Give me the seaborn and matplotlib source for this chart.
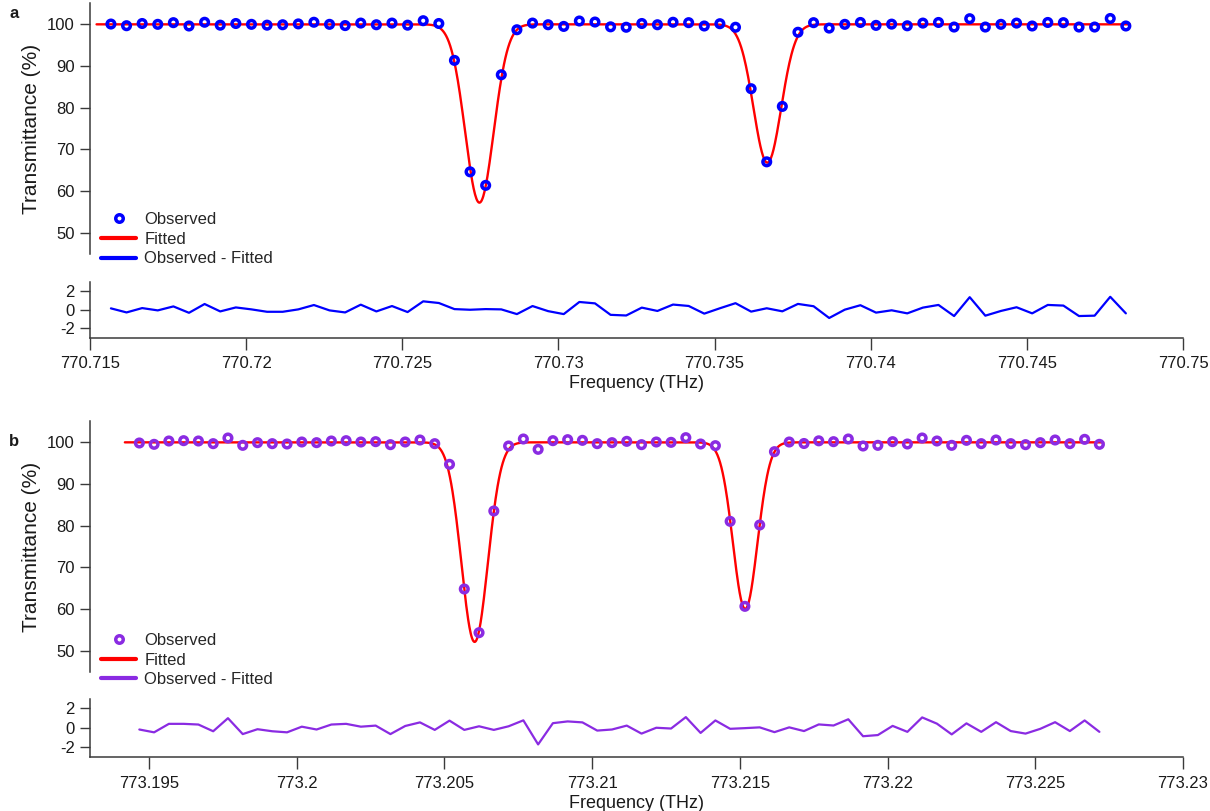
import numpy as np
import pandas as pd
import matplotlib
matplotlib.use("Agg")
import matplotlib.pyplot as plt
from matplotlib.lines import Line2D
import seaborn as sns

# ---------------- data: panel a ----------------
freq_a = [770.71567, 770.71617, 770.71667, 770.71717, 770.71767, 770.71817, 770.71867, 770.71917,
          770.71967, 770.72017, 770.72067, 770.72117, 770.72167, 770.72217, 770.72267, 770.72317,
          770.72367, 770.72417, 770.72467, 770.72517, 770.72567, 770.72617, 770.72667, 770.72717,
          770.72767, 770.72817, 770.72867, 770.72917, 770.72967, 770.73017, 770.73067, 770.73117,
          770.73167, 770.73217, 770.73267, 770.73317, 770.73367, 770.73417, 770.73467, 770.73517,
          770.73567, 770.73617, 770.73667, 770.73717, 770.73767, 770.73817, 770.73867, 770.73917,
          770.73967, 770.74017, 770.74067, 770.74117, 770.74167, 770.74217, 770.74267, 770.74317,
          770.74367, 770.74417, 770.74467, 770.74517, 770.74567, 770.74617, 770.74667, 770.74717,
          770.74767, 770.74817]
obs_a = [100.07, 99.67, 100.2, 100.0, 100.4, 99.6, 100.5, 99.8, 100.2, 100.0,
         99.8, 99.9, 100.1, 100.5, 100.0, 99.7, 100.3, 99.9, 100.3, 99.8,
         100.87, 100.2, 91.35, 64.6, 61.35, 87.9, 98.7, 100.3, 99.9, 99.5,
         100.8, 100.55, 99.4, 99.3, 100.2, 99.9, 100.5, 100.4, 99.6, 100.15,
         99.3, 84.55, 67.0, 80.3, 98.1, 100.4, 99.1, 100.0, 100.45, 99.75,
         100.05, 99.65, 100.3, 100.45, 99.35, 101.35, 99.35, 100.0, 100.3, 99.6,
         100.45, 100.4, 99.35, 99.35, 101.4, 99.6]
resid_a = [0.15, -0.29, 0.18, -0.07, 0.36, -0.33, 0.62, -0.18, 0.25, 0.04,
           -0.22, -0.22, 0.04, 0.51, -0.07, -0.29, 0.55, -0.18, 0.4, -0.25,
           0.91, 0.73, 0.07, 0.0, 0.07, 0.04, -0.47, 0.4, -0.15, -0.47,
           0.84, 0.69, -0.55, -0.62, 0.23, -0.13, 0.56, 0.41, -0.42, 0.16,
           0.71, -0.2, 0.16, -0.17, 0.63, 0.38, -0.89, 0.01, 0.49, -0.31,
           -0.06, -0.39, 0.23, 0.52, -0.68, 1.36, -0.64, -0.13, 0.27, -0.39,
           0.52, 0.45, -0.68, -0.64, 1.4, -0.39]
# fitted model parameters (Gaussian dips on a 100 % baseline)
fit_centers_a = [770.72747, 770.73669]
fit_depths_a = [42.8, 33.2]
fit_sigmas_a = [0.000455, 0.000442]
fit_range_a = [770.71521, 770.74830]
xticks_a = [770.715, 770.72, 770.725, 770.73, 770.735, 770.74, 770.745, 770.75]
xlim_a = [770.715, 770.75]

# ---------------- data: panel b ----------------
freq_b = [773.19467, 773.19517, 773.19567, 773.19617, 773.19667, 773.19717, 773.19767, 773.19817,
          773.19867, 773.19917, 773.19967, 773.20017, 773.20067, 773.20117, 773.20167, 773.20217,
          773.20267, 773.20317, 773.20367, 773.20417, 773.20467, 773.20517, 773.20567, 773.20617,
          773.20667, 773.20717, 773.20767, 773.20817, 773.20867, 773.20917, 773.20967, 773.21017,
          773.21067, 773.21117, 773.21167, 773.21217, 773.21267, 773.21317, 773.21367, 773.21417,
          773.21467, 773.21517, 773.21567, 773.21617, 773.21667, 773.21717, 773.21767, 773.21817,
          773.21867, 773.21917, 773.21967, 773.22017, 773.22067, 773.22117, 773.22167, 773.22217,
          773.22267, 773.22317, 773.22367, 773.22417, 773.22467, 773.22517, 773.22567, 773.22617,
          773.22667, 773.22717]
obs_b = [99.84, 99.52, 100.32, 100.4, 100.32, 99.68, 101.04, 99.28, 99.92, 99.68,
         99.6, 100.08, 99.92, 100.32, 100.4, 100.08, 100.16, 99.44, 100.08, 100.56,
         99.68, 94.72, 64.8, 54.32, 83.52, 99.12, 100.8, 98.32, 100.4, 100.64,
         100.48, 99.68, 99.92, 100.24, 99.44, 100.08, 100.0, 101.12, 99.6, 99.2,
         81.04, 60.64, 80.16, 97.76, 100.08, 99.72, 100.36, 100.16, 100.8, 99.12,
         99.28, 100.16, 99.6, 101.04, 100.32, 99.28, 100.48, 99.68, 100.56, 99.68,
         99.44, 99.92, 100.56, 99.68, 100.72, 99.52]
resid_b = [-0.18, -0.47, 0.4, 0.4, 0.33, -0.36, 0.98, -0.65, -0.15, -0.36,
           -0.47, 0.11, -0.18, 0.33, 0.4, 0.11, 0.22, -0.65, 0.18, 0.55,
           -0.22, 0.73, -0.22, 0.15, -0.22, 0.15, 0.76, -1.71, 0.47, 0.65,
           0.55, -0.29, -0.18, 0.22, -0.6, 0.0, -0.08, 1.09, -0.53, 0.75,
           -0.11, -0.04, 0.04, -0.45, 0.04, -0.34, 0.34, 0.23, 0.87, -0.87,
           -0.75, 0.19, -0.42, 1.06, 0.42, -0.68, 0.45, -0.42, 0.57, -0.34,
           -0.6, -0.11, 0.57, -0.34, 0.75, -0.42]
fit_centers_b = [773.20602, 773.21518]
fit_depths_b = [47.9, 40.0]
fit_sigmas_b = [0.000447, 0.000414]
fit_range_b = [773.19418, 773.2273]
xticks_b = [773.195, 773.2, 773.205, 773.21, 773.215, 773.22, 773.225, 773.23]
xlim_b = [773.193, 773.23]

yticks_main = [50, 60, 70, 80, 90, 100]
yticks_res = [-2, 0, 2]
labels = ["Observed", "Fitted", "Observed - Fitted"]

# ---------------- styling ----------------
sns.set_theme(style="ticks")
plt.rcParams['font.family'] = ['Liberation Sans', 'DejaVu Sans']
plt.rcParams['axes.unicode_minus'] = False

W, H = 1210, 811
fig = plt.figure(figsize=(W / 100, H / 100), dpi=100)

SPINE = '#3a3a3a'
TXT = '#1a1a1a'
FS = 12


def px_axes(left, top, right, bottom):
    return fig.add_axes([left / W, 1 - bottom / H, (right - left) / W, (bottom - top) / H])


def fitted_curve(rng, centers, depths, sigmas):
    xx = np.linspace(rng[0], rng[1], 1500)
    yy = np.full_like(xx, 100.0)
    for c, d, s in zip(centers, depths, sigmas):
        yy -= d * np.exp(-0.5 * ((xx - c) / s) ** 2)
    return xx, yy


def tick_fmt(v):
    return ('%.3f' % v).rstrip('0').rstrip('.')


def draw_panel(tops, freq, obs, resid, centers, depths, sigmas, rng, xticks, xlim, color,
               letter, letter_y, legend_top):
    main_top, main_bot, res_top, res_bot = tops
    ax = px_axes(90, main_top, 1183, main_bot)
    axr = px_axes(90, res_top, 1183, res_bot)

    xx, yy = fitted_curve(rng, centers, depths, sigmas)
    sns.lineplot(x=xx, y=yy, ax=ax, color='red', linewidth=1.7, estimator=None, sort=False, zorder=2)
    sns.scatterplot(x=freq, y=obs, ax=ax, s=30, facecolor='none', edgecolor=color,
                    linewidth=2.5, zorder=3)
    sns.lineplot(x=freq, y=resid, ax=axr, color=color, linewidth=1.6, estimator=None, sort=False)

    # main axes
    ax.set_xlim(xlim)
    ax.set_ylim(45, 105)
    ax.set_yticks(yticks_main)
    ax.set_yticklabels([str(t) for t in yticks_main])
    ax.set_xticks([])
    for side in ['top', 'right', 'bottom']:
        ax.spines[side].set_visible(False)
    ax.spines['left'].set_color(SPINE)
    ax.spines['left'].set_linewidth(1.1)
    ax.tick_params(axis='y', direction='out', length=7.5, width=1.0, color=SPINE,
                   labelsize=FS, labelcolor=TXT, pad=3.5)
    ax.set_ylabel('Transmittance (%)', fontsize=15, color=TXT, labelpad=4)
    ax.set_xlabel('')

    # residual axes
    axr.set_xlim(xlim)
    axr.set_ylim(-3, 3)
    axr.set_yticks(yticks_res)
    axr.set_yticklabels([str(t) for t in yticks_res])
    axr.set_xticks(xticks)
    axr.set_xticklabels([tick_fmt(t) for t in xticks])
    for side in ['top', 'right']:
        axr.spines[side].set_visible(False)
    for side in ['left', 'bottom']:
        axr.spines[side].set_color(SPINE)
        axr.spines[side].set_linewidth(1.1)
    axr.tick_params(axis='both', direction='out', length=7.5, width=1.0, color=SPINE,
                    labelsize=FS, labelcolor=TXT, pad=3.5)
    axr.tick_params(axis='x', length=8.5, pad=5)
    axr.set_xlabel('Frequency (THz)', fontsize=13, color=TXT, labelpad=3)
    axr.set_ylabel('')

    handles = [
        Line2D([], [], marker='o', linestyle='', markerfacecolor='none', markeredgecolor=color,
               markersize=5.4, markeredgewidth=2.5),
        Line2D([], [], color='red', linewidth=3),
        Line2D([], [], color=color, linewidth=3),
    ]
    ax.legend(handles, labels, loc='upper left', bbox_to_anchor=(101 / W, 1 - legend_top / H),
              bbox_transform=fig.transFigure, frameon=False, fontsize=FS, handlelength=2.1,
              handletextpad=0.5, labelspacing=0.28, borderpad=0, borderaxespad=0)
    fig.text(14 / W, 1 - letter_y / H, letter, fontsize=12, fontweight='bold',
             color=TXT, ha='center', va='center')


draw_panel((3.5, 253.5, 282, 337.5), freq_a, obs_a, resid_a, fit_centers_a, fit_depths_a,
           fit_sigmas_a, fit_range_a, xticks_a, xlim_a, '#0000ff', 'a', 14, 212)
draw_panel((421.5, 671.5, 698.5, 757), freq_b, obs_b, resid_b, fit_centers_b, fit_depths_b,
           fit_sigmas_b, fit_range_b, xticks_b, xlim_b, '#8a2be2', 'b', 441, 633)

fig.savefig('out.png', dpi=100)
